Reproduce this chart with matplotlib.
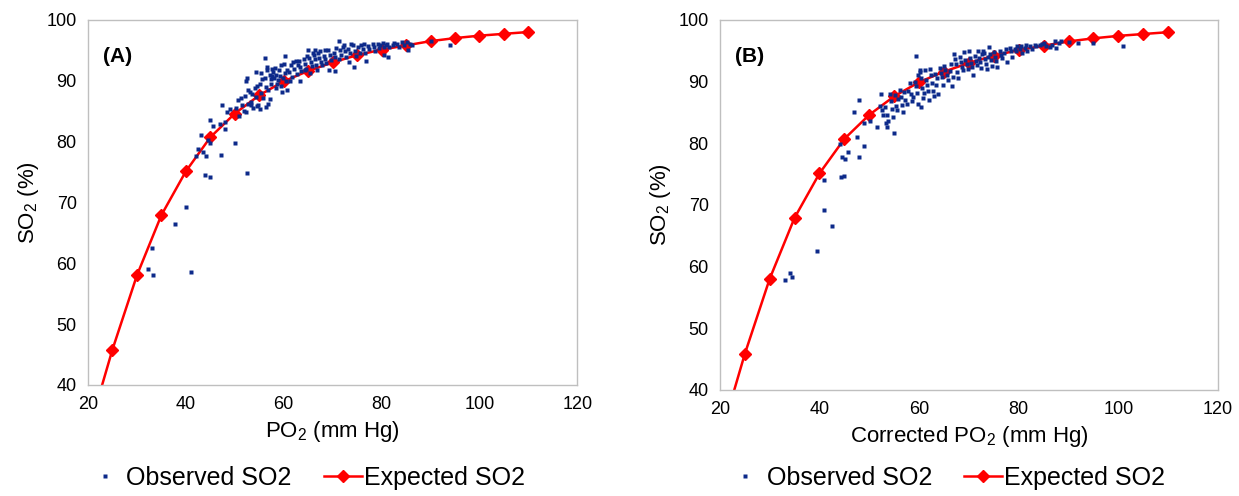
import matplotlib as mpl
import matplotlib.pyplot as plt
import numpy as np


# expected (standard) dissociation curve
EXP_X = [20, 25, 30, 35, 40, 45, 50, 55, 60, 65, 70, 75, 80, 85, 90, 95, 100, 105, 110]
EXP_Y = [32.0, 45.8, 58.0, 67.9, 75.1, 80.7, 84.6, 87.6, 89.9, 91.6, 93.0, 94.2, 95.1, 95.8, 96.5, 97.0, 97.4, 97.7, 98.0]

# observed SO2 vs measured PO2 (panel A)
OBS_A = [
    (33.0, 62.5), (32.3, 59.0), (33.3, 58.0), (41.0, 58.5), (37.8, 66.5), (40.0, 69.2),
    (44.0, 74.5), (45.0, 74.2), (52.5, 74.8), (47.2, 77.8), (44.2, 77.6), (43.5, 78.2),
    (42.5, 78.8), (42.0, 77.6), (50.0, 79.8), (45.0, 79.8), (43.0, 81.1), (45.0, 83.5),
    (45.5, 82.5), (47.0, 82.8), (48.0, 82.0), (47.3, 86.0), (48.5, 84.8), (49.0, 85.3),
    (48.0, 83.2), (44.5, 80.2),
    (50.2, 85.5), (50.6, 86.8), (50.9, 84.2), (51.2, 87.2), (51.5, 86.0), (51.8, 85.0),
    (52.0, 87.5), (52.3, 90.0), (52.4, 90.4), (52.6, 88.5), (52.8, 86.2), (52.2, 84.9),
    (53.1, 88.2), (53.4, 86.5), (53.6, 87.8), (53.8, 85.5), (53.3, 86.0),
    (54.1, 88.8), (54.4, 87.4), (54.6, 89.2), (54.3, 91.5), (54.8, 86.0), (54.5, 85.8),
    (55.1, 89.5), (55.3, 88.0), (55.6, 90.2), (55.4, 91.2), (55.8, 87.2), (55.2, 85.3),
    (56.1, 90.5), (56.3, 89.0), (56.5, 91.8), (56.7, 88.4), (56.2, 93.7), (56.6, 92.2),
    (56.4, 85.6), (56.8, 86.2),
    (57.1, 91.0), (57.3, 90.2), (57.5, 89.5), (57.7, 92.0), (57.2, 87.0), (57.6, 90.8), (57.9, 91.5),
    (58.1, 90.5), (58.3, 92.1), (58.5, 91.0), (58.7, 89.4), (58.4, 88.8), (58.8, 90.1),
    (59.1, 91.7), (59.3, 90.8), (59.5, 89.2), (59.7, 88.2), (59.4, 92.5), (59.9, 90.4),
    (60.1, 92.8), (60.3, 91.2), (60.5, 90.0), (60.2, 94.0), (60.7, 88.5), (60.6, 91.8),
    (61.1, 91.5), (61.4, 92.5), (61.6, 90.6), (61.8, 93.0), (61.3, 89.9),
    (62.2, 92.0), (62.5, 93.2), (62.7, 91.1), (62.9, 92.6),
    (63.1, 93.2), (63.4, 92.3), (63.6, 91.6), (63.3, 90.0),
    (64.1, 93.5), (64.3, 92.8), (64.6, 92.0), (64.8, 94.0), (64.4, 91.8),
    (65.0, 95.0), (65.2, 93.8), (65.5, 93.0), (65.7, 92.4), (65.3, 91.3), (65.9, 94.5),
    (66.1, 94.3), (66.4, 93.5), (66.6, 92.6), (66.8, 91.8), (66.3, 95.0),
    (67.1, 94.5), (67.3, 93.8), (67.6, 93.1), (67.8, 92.5), (67.4, 94.9),
    (68.2, 94.0), (68.5, 93.5), (68.7, 92.9), (68.4, 95.0),
    (69.1, 95.1), (69.4, 94.2), (69.6, 93.4), (69.3, 91.7),
    (70.2, 94.6), (70.5, 93.9), (70.7, 95.3), (70.4, 91.6),
    (71.3, 96.5), (71.5, 95.0), (71.7, 94.2), (71.2, 93.5),
    (72.2, 95.5), (72.5, 94.8), (72.7, 93.9), (72.4, 95.9),
    (73.2, 95.2), (73.5, 94.5), (73.7, 96.0), (73.3, 93.0),
    (74.2, 95.8), (74.5, 94.9), (74.3, 92.2), (74.7, 94.0),
    (75.2, 95.5), (75.5, 94.6), (75.7, 95.9),
    (76.2, 95.2), (76.5, 96.0), (76.7, 94.5),
    (77.2, 95.7), (77.5, 95.2), (76.9, 93.3),
    (78.2, 96.0), (78.5, 95.5), (78.7, 94.8),
    (79.2, 96.1), (79.5, 95.3), (79.7, 95.8),
    (80.2, 96.2), (80.4, 95.6), (80.5, 94.2), (80.8, 95.9),
    (81.2, 96.0), (81.5, 95.5), (81.3, 93.9),
    (82.3, 95.8), (82.6, 96.2), (83.2, 96.1), (83.5, 95.5),
    (84.2, 96.4), (84.6, 95.8), (85.1, 96.3), (85.4, 95.1), (85.7, 96.0),
    (86.3, 95.8), (90.0, 96.5), (94.0, 95.8),
]

# observed SO2 vs corrected PO2 (panel B)
OBS_B = [
    (33.0, 57.8), (34.0, 59.0), (34.5, 58.3), (39.5, 62.5), (42.5, 66.5), (41.0, 69.2),
    (41.0, 74.0), (44.3, 74.5), (45.0, 74.6), (44.5, 77.8), (45.2, 77.5), (45.8, 78.6),
    (48.0, 77.7), (49.0, 79.5), (44.2, 79.8), (47.5, 81.0), (47.0, 85.0), (48.0, 87.0),
    (49.0, 83.2), (50.2, 83.6), (51.5, 82.7), (53.5, 82.7), (53.3, 83.2), (55.0, 81.6),
    (52.1, 86.0), (52.4, 88.0), (52.6, 85.3), (52.8, 84.5),
    (53.2, 85.8), (53.5, 84.5), (53.7, 83.6),
    (54.1, 88.0), (54.3, 86.8), (54.6, 85.5), (54.8, 84.2),
    (55.1, 87.8), (55.3, 86.0), (55.6, 85.3), (55.8, 87.2),
    (56.1, 88.7), (56.3, 87.5), (56.5, 86.2), (56.7, 85.0), (56.9, 88.3),
    (57.2, 87.0), (57.5, 86.3), (57.7, 88.5),
    (58.1, 89.8), (58.3, 88.0), (58.5, 86.8), (58.8, 87.5),
    (59.1, 90.0), (59.3, 89.2), (59.5, 88.2), (59.7, 86.4), (59.4, 94.1), (59.8, 91.0),
    (60.1, 91.5), (60.3, 90.5), (60.5, 89.0), (60.7, 87.3), (60.4, 85.8), (60.9, 88.2), (60.2, 91.8),
    (61.1, 91.8), (61.3, 90.2), (61.5, 89.4), (61.7, 88.5), (61.9, 87.0),
    (62.1, 92.0), (62.3, 91.0), (62.5, 89.8), (62.7, 88.5), (62.9, 87.7),
    (63.2, 91.2), (63.5, 90.5), (63.7, 88.0), (63.4, 89.5),
    (64.1, 92.2), (64.3, 91.3), (64.6, 90.8), (64.8, 89.5),
    (65.1, 92.5), (65.3, 91.8), (65.6, 91.0), (65.8, 90.2),
    (66.2, 91.7), (66.4, 92.8), (66.6, 89.3), (66.8, 90.8),
    (67.1, 94.5), (67.3, 93.6), (67.5, 92.8), (67.7, 91.5), (67.9, 90.6),
    (68.2, 94.0), (68.4, 93.2), (68.6, 92.4), (68.8, 91.8),
    (69.1, 94.8), (69.3, 93.5), (69.6, 92.8), (69.8, 92.1),
    (70.1, 95.0), (70.3, 93.8), (70.5, 93.0), (70.7, 92.3), (70.9, 91.0),
    (71.2, 94.2), (71.4, 93.4), (71.6, 92.6), (71.8, 95.0),
    (72.1, 93.8), (72.3, 93.1), (72.5, 92.2), (72.7, 94.5), (72.9, 95.0),
    (73.1, 94.6), (73.3, 93.6), (73.5, 92.8), (73.7, 92.0), (73.9, 94.0),
    (74.1, 95.6), (74.3, 94.4), (74.5, 93.5), (74.7, 92.5),
    (75.1, 94.8), (75.3, 94.0), (75.5, 93.3), (75.7, 92.4),
    (76.2, 95.0), (76.4, 94.3), (76.6, 93.8),
    (77.1, 94.6), (77.4, 95.2), (77.7, 93.2),
    (78.2, 95.5), (78.5, 95.0), (78.7, 94.0),
    (79.2, 95.3), (79.5, 94.9), (79.7, 95.7),
    (80.2, 95.2), (80.5, 95.8), (80.7, 94.6),
    (81.2, 95.5), (81.5, 96.0), (81.7, 95.0),
    (82.3, 95.8), (82.6, 95.3), (83.2, 96.0), (83.5, 95.7),
    (84.2, 95.9), (84.6, 96.1), (85.1, 96.2), (85.4, 95.7),
    (86.2, 95.6), (86.6, 96.0), (87.2, 96.5), (87.5, 95.4),
    (88.1, 96.2), (88.4, 96.6), (90.0, 96.4), (92.0, 96.3), (95.0, 96.3), (101.0, 95.7),
]

PANELS = [
    ("(A)", "PO$_2$ (mm Hg)", OBS_A),
    ("(B)", "Corrected PO$_2$ (mm Hg)", OBS_B),
]
X_TICKS = [20, 40, 60, 80, 100, 120]
Y_TICKS = [40, 50, 60, 70, 80, 90, 100]


def main():
    mpl.rcParams.update(
        {
            "font.family": ["Liberation Sans", "DejaVu Sans"],
            "mathtext.default": "regular",
            "font.size": 13,
        }
    )

    fig = plt.figure(figsize=(12.39, 4.96), dpi=100)
    fig.patch.set_facecolor("white")
    # axes boxes in figure fractions; legend centre x in axes fraction
    boxes = [[0.071, 0.224, 0.395, 0.736], [0.581, 0.214, 0.402, 0.746]]
    legend_x = [0.445, 0.454]
    legend_px = 478

    for box, lx, (tag, xlabel, obs) in zip(boxes, legend_x, PANELS):
        ax = fig.add_axes(box)
        ox, oy = zip(*obs)
        ax.plot(ox, oy, ls="none", marker="s", ms=3.4, mec="none", color="#0d2a8a",
                label="Observed SO2", zorder=3)
        ax.plot(EXP_X, EXP_Y, color="#ff0000", lw=1.8, marker="D", ms=6.0,
                label="Expected SO2", zorder=2)

        ax.set_xlim(20, 120)
        ax.set_ylim(40, 100)
        ax.set_xticks(X_TICKS)
        ax.set_yticks(Y_TICKS)
        ax.tick_params(length=0, labelsize=13, pad=8)
        for sp in ax.spines.values():
            sp.set_color("#bfbfbf")
            sp.set_linewidth(1.0)
        ax.set_xlabel(xlabel, fontsize=16, labelpad=4)
        ax.set_ylabel("SO$_2$ (%)", fontsize=16, labelpad=4)
        ax.text(0.03, 0.9, tag, transform=ax.transAxes, fontsize=15, fontweight="bold",
                ha="left", va="center")

        leg_y = (1 - legend_px / 496.0 - box[1]) / box[3]
        ax.legend(loc="center", bbox_to_anchor=(lx, leg_y), ncol=2,
                  frameon=False, fontsize=18, handlelength=1.5, handletextpad=0.1,
                  columnspacing=1.3, borderaxespad=0, borderpad=0)

    fig.savefig("out.png", dpi=100)
    plt.close(fig)


if __name__ == "__main__":
    main()
